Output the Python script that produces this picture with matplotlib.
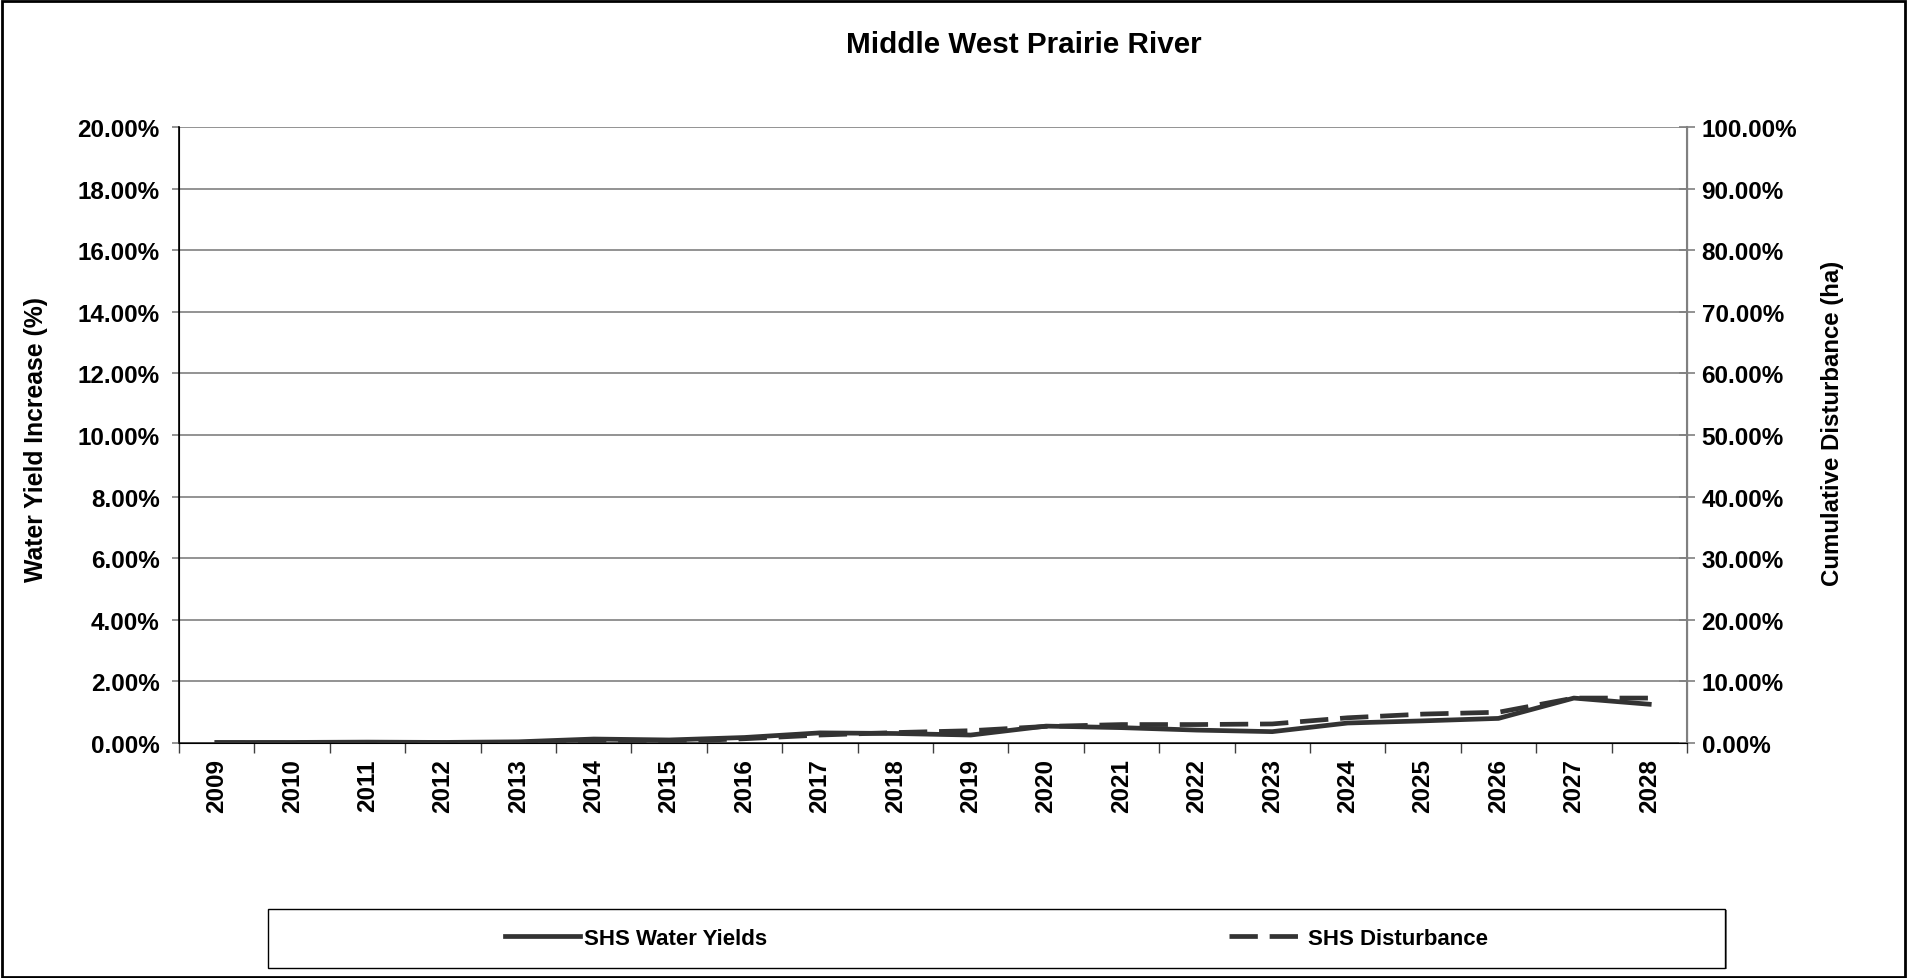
import numpy as np
import matplotlib.pyplot as plt
from matplotlib.patches import Rectangle
from matplotlib.ticker import FuncFormatter, MultipleLocator

plt.rcParams['font.family'] = ['Liberation Sans', 'DejaVu Sans']
plt.rcParams['font.weight'] = 'bold'

years = [str(y) for y in range(2009, 2029)]
# left axis, percent
water_yields = [0.02, 0.02, 0.03, 0.02, 0.04, 0.13, 0.10, 0.18, 0.33, 0.31,
                0.26, 0.55, 0.50, 0.42, 0.37, 0.65, 0.72, 0.80, 1.46, 1.26]
# right axis, percent
disturbance = [0.0, 0.0, 0.05, 0.05, 0.1, 0.2, 0.25, 0.7, 1.3, 1.7,
               2.0, 2.7, 3.0, 3.0, 3.1, 4.1, 4.7, 5.0, 7.3, 7.3]

fig = plt.figure(figsize=(19.07, 9.79), dpi=100)
ax = fig.add_axes([0.0939, 0.2400, 0.7907, 0.6293])
ax2 = ax.twinx()

x = np.arange(len(years))
line_col = '#333333'
l1, = ax.plot(x, water_yields, color=line_col, lw=3.4, solid_joinstyle='round',
              label='SHS Water Yields', zorder=3)
l2, = ax2.plot(x, disturbance, color=line_col, lw=3.4, dashes=(6, 2.5),
               label='SHS Disturbance', zorder=3)

ax.set_xlim(-0.5, len(years) - 0.5)
ax.set_ylim(0, 20)
ax2.set_ylim(0, 100)
ax.yaxis.set_major_locator(MultipleLocator(2))
ax2.yaxis.set_major_locator(MultipleLocator(10))
ax.yaxis.set_major_formatter(FuncFormatter(lambda v, p: f'{v:.2f}%'))
ax2.yaxis.set_major_formatter(FuncFormatter(lambda v, p: f'{v:.2f}%'))
ax.grid(axis='y', color='#808080', lw=1.2)
ax.set_axisbelow(True)

tick_fs = 17.5
ax.set_xticks(x)
ax.set_xticklabels(years, rotation=90, fontsize=tick_fs, fontweight='bold')
ax.set_xticks(np.arange(-0.5, len(years)), minor=True)
ax.tick_params(axis='x', which='major', length=0, pad=11)
ax.tick_params(axis='x', which='minor', length=7, width=1, color='#404040')
ax.tick_params(axis='y', length=5, width=1.2, labelsize=tick_fs, pad=9, color='#808080')
ax2.tick_params(axis='y', direction='inout', length=11, width=1.2, labelsize=tick_fs,
                pad=5, color='#808080')
for lab in ax.get_yticklabels() + ax2.get_yticklabels():
    lab.set_fontweight('bold')

ax.spines['top'].set_visible(False)
ax2.spines['top'].set_visible(False)
ax.spines['left'].set_color('black')
ax.spines['left'].set_linewidth(1.2)
ax2.spines['right'].set_color('#808080')
ax2.spines['right'].set_linewidth(1.5)
ax.spines['bottom'].set_color('#404040')
ax.spines['bottom'].set_linewidth(1.2)

ax.set_ylabel('Water Yield Increase (%)', fontsize=17.8, fontweight='bold')
ax.yaxis.set_label_coords(-0.0867, 0.495)
ax2.set_ylabel('Cumulative Disturbance (ha)', fontsize=17.3, fontweight='bold')
ax2.yaxis.set_label_coords(1.0888, 0.52)

fig.text(0.537, 0.954, 'Middle West Prairie River', fontsize=21.3, fontweight='bold',
         ha='center', va='center')

# legend box with a small shadow
fig.patches.append(Rectangle((0.1415, 0.0092), 0.764, 0.0603, transform=fig.transFigure,
                             facecolor='#808080', edgecolor='none', zorder=1))
fig.patches.append(Rectangle((0.1405, 0.0102), 0.764, 0.0603, transform=fig.transFigure,
                             facecolor='white', edgecolor='black', lw=1, zorder=2))
leg = fig.legend([l1, l2], ['SHS Water Yields', 'SHS Disturbance'], loc='center',
                 bbox_to_anchor=(0.5225, 0.0403), ncol=2, frameon=False,
                 columnspacing=20.8, handlelength=3.4, handletextpad=0.15,
                 prop={'size': 16, 'weight': 'bold'})
leg.set_zorder(5)

# outer frame
fig.patches.append(Rectangle((0.001, 0.001), 0.998, 0.997, transform=fig.transFigure,
                             facecolor='none', edgecolor='black', lw=2, zorder=0))

fig.savefig('out.png', dpi=100)
